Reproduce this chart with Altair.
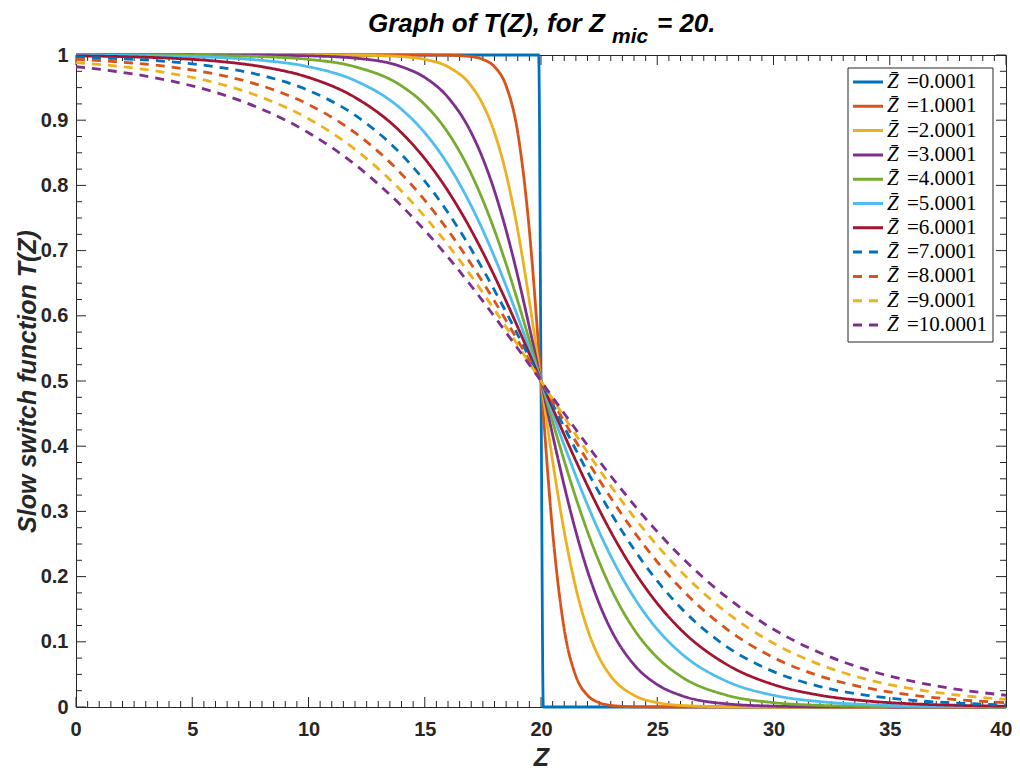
import altair as alt
import pandas as pd

# ---------------- data ----------------
Z = [0, 2, 4, 6, 8, 10, 12, 14, 15, 16, 17, 17.5, 18, 18.5, 19, 19.5, 19.9, 20,
     20.1, 20.5, 21, 21.5, 22, 22.5, 23, 24, 25, 26, 28, 30, 32, 34, 36, 38, 40]

T_00 = [1, 1, 1, 1, 1, 1, 1, 1, 1, 1, 1, 1, 1, 1, 1, 1, 1, 0.5,
        0, 0, 0, 0, 0, 0, 0, 0, 0, 0, 0, 0, 0, 0, 0, 0, 0]
T_01 = [1, 1, 1, 1, 1, 1, 1, 1, 1, 0.9997, 0.9975, 0.9933, 0.9820, 0.9526, 0.8808, 0.7311, 0.5498, 0.5,
        0.4502, 0.2689, 0.1192, 0.0474, 0.0180, 0.0067, 0.0025, 0.0003, 0, 0, 0, 0, 0, 0, 0, 0, 0]
T_02 = [1, 1, 1, 1, 1, 1, 0.9997, 0.9975, 0.9933, 0.9820, 0.9526, 0.9241, 0.8808, 0.8176, 0.7311, 0.6225, 0.5250, 0.5,
        0.4750, 0.3775, 0.2689, 0.1824, 0.1192, 0.0759, 0.0474, 0.0180, 0.0067, 0.0025, 0.0003, 0, 0, 0, 0, 0, 0]
T_03 = [1, 1, 1, 0.9999, 0.9997, 0.9987, 0.9952, 0.9820, 0.9656, 0.9350, 0.8808, 0.8411, 0.7914, 0.7311, 0.6608, 0.5826, 0.5167, 0.5,
        0.4833, 0.4174, 0.3392, 0.2689, 0.2086, 0.1589, 0.1192, 0.0650, 0.0344, 0.0180, 0.0048, 0.0013, 0.0003, 0.0001, 0, 0, 0]
T_04 = [1, 0.9999, 0.9997, 0.9991, 0.9975, 0.9933, 0.9820, 0.9526, 0.9241, 0.8808, 0.8176, 0.7773, 0.7311, 0.6792, 0.6225, 0.5622, 0.5125, 0.5,
        0.4875, 0.4378, 0.3775, 0.3208, 0.2689, 0.2227, 0.1824, 0.1192, 0.0759, 0.0474, 0.0180, 0.0067, 0.0025, 0.0009, 0.0003, 0.0001, 0]
T_05 = [0.9997, 0.9993, 0.9983, 0.9963, 0.9918, 0.9820, 0.9608, 0.9168, 0.8808, 0.8320, 0.7685, 0.7311, 0.6900, 0.6457, 0.5987, 0.5498, 0.5100, 0.5,
        0.4900, 0.4502, 0.4013, 0.3543, 0.3100, 0.2689, 0.2315, 0.1680, 0.1192, 0.0832, 0.0392, 0.0180, 0.0082, 0.0037, 0.0017, 0.0007, 0.0003]
T_06 = [0.9987, 0.9975, 0.9952, 0.9907, 0.9820, 0.9656, 0.9350, 0.8808, 0.8411, 0.7914, 0.7311, 0.6971, 0.6608, 0.6225, 0.5826, 0.5416, 0.5083, 0.5,
        0.4917, 0.4584, 0.4174, 0.3775, 0.3392, 0.3029, 0.2689, 0.2086, 0.1589, 0.1192, 0.0650, 0.0344, 0.0180, 0.0093, 0.0048, 0.0025, 0.0013]
T_07 = [0.9967, 0.9942, 0.9898, 0.9820, 0.9686, 0.9457, 0.9077, 0.8474, 0.8067, 0.7582, 0.7021, 0.6713, 0.6391, 0.6055, 0.5709, 0.5357, 0.5071, 0.5,
        0.4929, 0.4643, 0.4291, 0.3945, 0.3609, 0.3287, 0.2979, 0.2418, 0.1933, 0.1526, 0.0923, 0.0543, 0.0314, 0.0180, 0.0102, 0.0058, 0.0033]
T_08 = [0.9933, 0.9890, 0.9820, 0.9707, 0.9526, 0.9241, 0.8808, 0.8176, 0.7773, 0.7311, 0.6792, 0.6514, 0.6225, 0.5927, 0.5622, 0.5312, 0.5062, 0.5,
        0.4938, 0.4688, 0.4378, 0.4073, 0.3775, 0.3486, 0.3208, 0.2689, 0.2227, 0.1824, 0.1192, 0.0759, 0.0474, 0.0293, 0.0180, 0.0110, 0.0067]
T_09 = [0.9884, 0.9820, 0.9722, 0.9574, 0.9350, 0.9022, 0.8554, 0.7914, 0.7523, 0.7087, 0.6608, 0.6354, 0.6093, 0.5826, 0.5553, 0.5277, 0.5056, 0.5,
        0.4944, 0.4723, 0.4447, 0.4174, 0.3907, 0.3646, 0.3392, 0.2913, 0.2477, 0.2086, 0.1446, 0.0978, 0.0650, 0.0426, 0.0278, 0.0180, 0.0116]
T_10 = [0.9820, 0.9734, 0.9608, 0.9427, 0.9168, 0.8808, 0.8320, 0.7685, 0.7311, 0.6900, 0.6457, 0.6225, 0.5987, 0.5744, 0.5498, 0.5250, 0.5050, 0.5,
        0.4950, 0.4750, 0.4502, 0.4256, 0.4013, 0.3775, 0.3543, 0.3100, 0.2689, 0.2315, 0.1680, 0.1192, 0.0832, 0.0573, 0.0392, 0.0266, 0.0180]

zbar_values = ["0.0001", "1.0001", "2.0001", "3.0001", "4.0001", "5.0001",
               "6.0001", "7.0001", "8.0001", "9.0001", "10.0001"]
series = [T_00, T_01, T_02, T_03, T_04, T_05, T_06, T_07, T_08, T_09, T_10]

colors = ["#0072BD", "#D95319", "#EDB120", "#7E2F8E", "#77AC30", "#4DBEEE",
          "#A2142F", "#0072BD", "#D95319", "#EDB120", "#7E2F8E"]
dashes = [[1, 0]] * 7 + [[9, 7]] * 4

x_major = [0, 5, 10, 15, 20, 25, 30, 35, 40]
y_major = [0, 0.1, 0.2, 0.3, 0.4, 0.5, 0.6, 0.7, 0.8, 0.9, 1]
x_minor = [i * 0.5 for i in range(81) if i % 10 != 0]
y_minor = [i * 0.025 for i in range(41) if i % 4 != 0]

# ---------------- tables ----------------
labels = ["Z\u0304 =" + v for v in zbar_values]
rows = []
for k, (lab, vals) in enumerate(zip(labels, series)):
    for z, t in zip(Z, vals):
        rows.append({"series": lab, "k": k, "Z": z, "T": t})
df = pd.DataFrame(rows)
leg_df = pd.DataFrame({"series": labels, "k": list(range(len(labels))),
                       "val": ["=" + v for v in zbar_values]})

W, H = 930, 652
INK = "#262626"
FONT = "Liberation Sans"

xscale = alt.Scale(domain=[0, 40], nice=False, zero=False)
yscale = alt.Scale(domain=[0, 1], nice=False, zero=False)
cscale = alt.Scale(domain=labels, range=colors)
dscale = alt.Scale(domain=labels, range=dashes)

ax_x = alt.Axis(values=x_major, format="d", ticks=False, tickSize=0, domain=False, grid=False,
                labelFont=FONT, labelFontWeight="bold", labelFontSize=20, labelColor=INK,
                labelPadding=12, labelFlush=True, labelFlushOffset=6,
                title="Z", titleFont=FONT, titleFontStyle="italic", titleFontWeight="bold",
                titleFontSize=25, titleColor=INK, titleX=W / 2, titleY=50,
                titleBaseline="middle", titleAlign="center")
ax_y = alt.Axis(values=y_major, format="~g", ticks=False, tickSize=0, domain=False, grid=False,
                labelFont=FONT, labelFontWeight="bold", labelFontSize=20, labelColor=INK,
                labelPadding=8, labelFlush=False,
                title="Slow switch function T(Z)", titleFont=FONT, titleFontStyle="italic",
                titleFontWeight="bold", titleFontSize=25, titleColor=INK,
                titleX=-49, titleY=H / 2, titleBaseline="middle", titleAlign="center",
                titleAngle=270)

lines = alt.Chart(df).mark_line(strokeWidth=2.8, interpolate="monotone").encode(
    x=alt.X("Z:Q", scale=xscale, axis=ax_x),
    y=alt.Y("T:Q", scale=yscale, axis=ax_y),
    color=alt.Color("series:N", scale=cscale, legend=None),
    strokeDash=alt.StrokeDash("series:N", scale=dscale, legend=None),
    order=alt.Order("k:Q"),
)

def xticks(vals, length):
    d = pd.DataFrame({"Z": vals})
    bot = alt.Chart(d).mark_rule(color=INK, strokeWidth=1).encode(
        x=alt.X("Z:Q", scale=xscale, axis=ax_x), y=alt.value(H), y2=alt.value(H - length))
    top = alt.Chart(d).mark_rule(color=INK, strokeWidth=1).encode(
        x=alt.X("Z:Q", scale=xscale, axis=ax_x), y=alt.value(0), y2=alt.value(length))
    return [bot, top]

def yticks(vals, length):
    d = pd.DataFrame({"T": vals})
    lft = alt.Chart(d).mark_rule(color=INK, strokeWidth=1).encode(
        y=alt.Y("T:Q", scale=yscale, axis=ax_y), x=alt.value(0), x2=alt.value(length))
    rgt = alt.Chart(d).mark_rule(color=INK, strokeWidth=1).encode(
        y=alt.Y("T:Q", scale=yscale, axis=ax_y), x=alt.value(W), x2=alt.value(W - length))
    return [lft, rgt]

tick_layers = xticks(x_major, 10) + xticks(x_minor, 6) + yticks(y_major, 10) + yticks(y_minor, 6)

def ttext(txt, x, y, size):
    return alt.Chart(pd.DataFrame({"t": [txt]})).mark_text(
        align="left", baseline="alphabetic", font=FONT, fontSize=size,
        fontStyle="italic", fontWeight="bold", color="black").encode(
        text="t:N", x=alt.value(x), y=alt.value(y))

title_layers = [
    ttext("Graph of T(Z), for Z", 292, -23, 26),
    ttext("mic", 536, -12, 21),
    ttext("= 20.", 581, -23, 26),
]

main = alt.layer(*tick_layers, lines, *title_layers)

# ---------------- legend (drawn as marks) ----------------
LX, LY, LW, LH = 772, 13, 145, 274
rowscale = alt.Scale(type="point", domain=list(range(len(labels))), range=[27, 270], padding=0)

leg_box = alt.Chart(pd.DataFrame({"a": [0]})).mark_rect(
    fill="white", stroke=INK, strokeWidth=1).encode(
    x=alt.value(LX), x2=alt.value(LX + LW), y=alt.value(LY), y2=alt.value(LY + LH))
leg_sym = alt.Chart(leg_df).mark_rule(strokeWidth=3).encode(
    x=alt.value(LX + 5), x2=alt.value(LX + 35),
    y=alt.Y("k:O", scale=rowscale, axis=None),
    color=alt.Color("series:N", scale=cscale, legend=None),
    strokeDash=alt.StrokeDash("series:N", scale=dscale, legend=None),
)
leg_z = alt.Chart(leg_df).mark_text(
    align="left", baseline="middle", font="Liberation Serif", fontSize=21,
    fontStyle="italic", color="black").encode(
    x=alt.value(LX + 39), y=alt.Y("k:O", scale=rowscale, axis=None),
    text=alt.value("Z\u0304"))
leg_v = alt.Chart(leg_df).mark_text(
    align="left", baseline="middle", font="Liberation Serif", fontSize=21,
    color="black").encode(
    x=alt.value(LX + 59), y=alt.Y("k:O", scale=rowscale, axis=None),
    text="val:N")
legend = alt.layer(leg_box, leg_sym, leg_z, leg_v)

chart = alt.layer(main, legend).resolve_scale(y="independent").properties(
    width=W, height=H,
    autosize=alt.AutoSizeParams(type="none"),
    padding={"left": 68, "top": 47, "right": 6, "bottom": 62},
).configure_view(stroke=INK, strokeWidth=1)

chart.save("out.html", embed_options={"renderer": "svg", "actions": False})
